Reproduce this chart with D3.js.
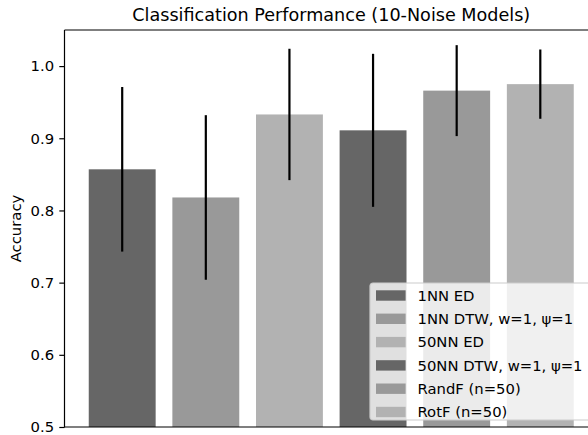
<!DOCTYPE html>
<html>
<head>
<meta charset="utf-8">
<script src="https://cdn.jsdelivr.net/npm/d3@7/dist/d3.min.js"></script>
<style>
  html, body { margin: 0; padding: 0; background: #fff; }
  svg { display: block; font-family: "DejaVu Sans", sans-serif; }
</style>
</head>
<body>
<svg id="chart" width="588" height="435"></svg>
<script>
// Mean accuracy and spread per classifier
const methods = ["1NN ED", "1NN DTW, w=1, \u03c8=1", "50NN ED", "50NN DTW, w=1, \u03c8=1", "RandF (n=50)", "RotF (n=50)"];
const accuracy = [0.857, 0.818, 0.933, 0.911, 0.966, 0.975];
const spread = [0.114, 0.114, 0.091, 0.106, 0.063, 0.048];
const barColors = ["#666666", "#999999", "#b2b2b2", "#666666", "#999999", "#b2b2b2"];
const yTicks = [0.5, 0.6, 0.7, 0.8, 0.9, 1.0];

const svg = d3.select("#chart");
const plot = { left: 64.5, right: 598, top: 30, bottom: 427 };
const fontSize = 14.8;

const x = d3.scaleLinear().domain([-0.69, 5.69]).range([plot.left, plot.right]);
const y = d3.scaleLinear().domain([0.5, 1.05]).range([plot.bottom, plot.top]);
const barHalf = 0.4;

const g = svg.append("g");

// Bars
g.selectAll("rect.bar")
  .data(accuracy)
  .join("rect")
  .attr("class", "bar")
  .attr("x", (d, i) => x(i - barHalf))
  .attr("width", (d, i) => x(i + barHalf) - x(i - barHalf))
  .attr("y", d => y(d))
  .attr("height", d => y(0.5) - y(d))
  .attr("fill", (d, i) => barColors[i]);

// Error bars (no caps)
g.selectAll("line.err")
  .data(accuracy)
  .join("line")
  .attr("class", "err")
  .attr("x1", (d, i) => x(i))
  .attr("x2", (d, i) => x(i))
  .attr("y1", (d, i) => y(d - spread[i]))
  .attr("y2", (d, i) => y(d + spread[i]))
  .attr("stroke", "#000")
  .attr("stroke-width", 2.2);

// Y axis
const yAxis = d3.axisLeft(y)
  .tickValues(yTicks)
  .tickFormat(d3.format(".1f"))
  .tickSize(5.2)
  .tickPadding(5.2);
const ya = svg.append("g")
  .attr("transform", `translate(${plot.left},0)`)
  .call(yAxis);
ya.select(".domain").remove();
ya.selectAll(".tick line").attr("stroke", "#000").attr("stroke-width", 1.2);
ya.selectAll(".tick text")
  .attr("fill", "#000")
  .style("font-size", fontSize + "px")
  .style("font-family", "DejaVu Sans, sans-serif");

// Frame
const frame = svg.append("g").attr("fill", "none").attr("stroke", "#000").attr("stroke-width", 1.2);
frame.append("line").attr("x1", plot.left).attr("x2", plot.left).attr("y1", plot.top).attr("y2", plot.bottom + 0.6);
frame.append("line").attr("x1", plot.left).attr("x2", plot.right).attr("y1", plot.bottom).attr("y2", plot.bottom);
frame.append("line").attr("x1", plot.left).attr("x2", plot.right).attr("y1", plot.top).attr("y2", plot.top);
frame.append("line").attr("x1", plot.right).attr("x2", plot.right).attr("y1", plot.top).attr("y2", plot.bottom);

// Axis label
svg.append("text")
  .attr("transform", `translate(21,${(plot.top + plot.bottom) / 2}) rotate(-90)`)
  .attr("text-anchor", "middle")
  .style("font-size", fontSize + "px")
  .text("Accuracy");

// Title
svg.append("text")
  .attr("x", (plot.left + plot.right) / 2)
  .attr("y", 20.5)
  .attr("text-anchor", "middle")
  .style("font-size", "17.6px")
  .text("Classification Performance (10-Noise Models)");

// Legend
const leg = svg.append("g").attr("transform", "translate(370,283)");
const rowStep = 23.3;
leg.append("rect")
  .attr("x", 0).attr("y", 0)
  .attr("width", 226).attr("height", 137)
  .attr("rx", 3)
  .attr("fill", "#fff").attr("fill-opacity", 0.8)
  .attr("stroke", "#cccccc").attr("stroke-width", 1.2);
const rows = leg.selectAll("g.row")
  .data(methods)
  .join("g")
  .attr("class", "row")
  .attr("transform", (d, i) => `translate(0,${12.5 + i * rowStep})`);
rows.append("rect")
  .attr("x", 6).attr("y", -5.2)
  .attr("width", 29.6).attr("height", 10.4)
  .attr("fill", (d, i) => barColors[i]);
rows.append("text")
  .attr("x", 47.5)
  .attr("y", 5.3)
  .style("font-size", fontSize + "px")
  .text(d => d);
</script>
</body>
</html>
